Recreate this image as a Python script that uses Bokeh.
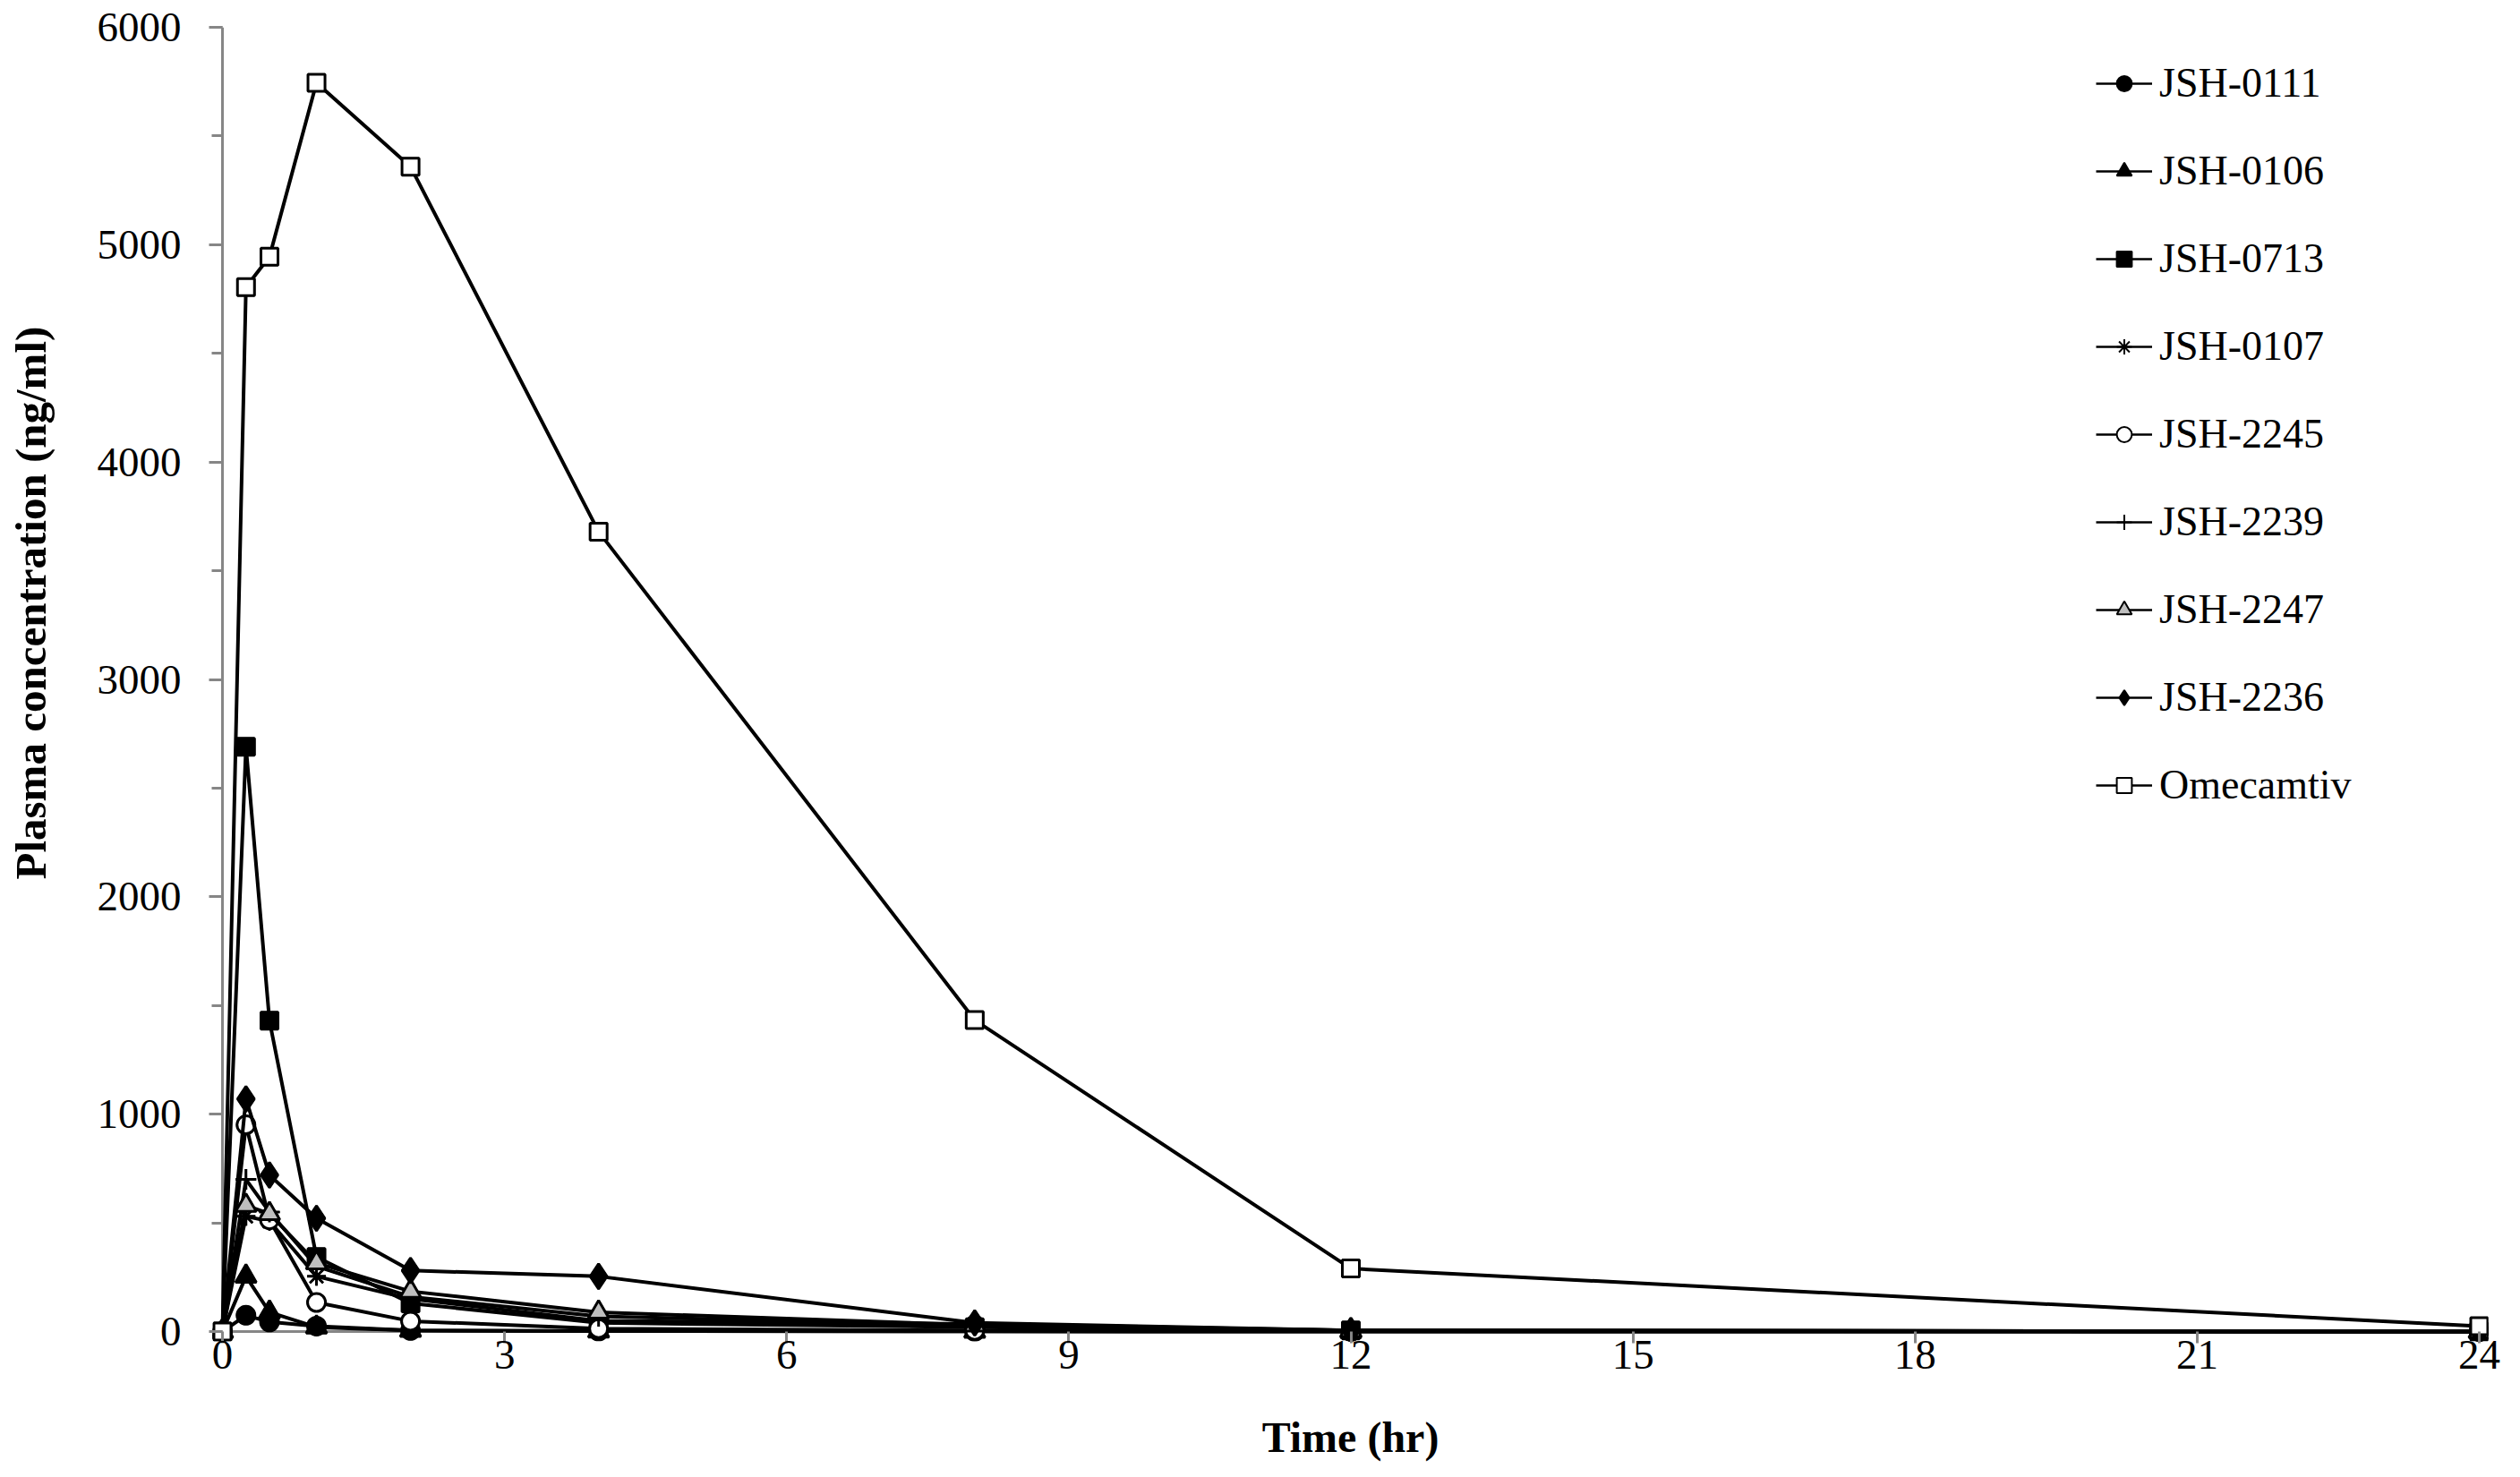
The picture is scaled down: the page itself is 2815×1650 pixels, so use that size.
from bokeh.plotting import figure
from bokeh.models import (Range1d, SingleIntervalTicker, FixedTicker, ColumnDataSource,
                          Legend, LegendItem, Span, Title, LinearAxis)
from bokeh.embed import file_html
from bokeh.resources import INLINE

# ---- data ----
time_hr = [0, 0.25, 0.5, 1, 2, 4, 8, 12, 24]

jsh_0111 = [0, 75, 44, 25, 5, 2, 1, 0, 0]
jsh_0106 = [0, 254, 89, 20, 5, 2, 1, 0, 0]
jsh_0713 = [0, 2690, 1430, 343, 130, 40, 20, 5, 0]
jsh_0107 = [0, 530, 508, 254, 150, 50, 35, 5, 0]
jsh_2245 = [0, 951, 514, 134, 48, 14, 5, 2, 0]
jsh_2239 = [0, 700, 550, 300, 160, 70, 30, 3, 0]
jsh_2247 = [0, 580, 542, 316, 185, 89, 30, 5, 0]
jsh_2236 = [0, 1070, 720, 521, 281, 254, 40, 5, 0]
omecamtiv = [0, 4805, 4945, 5745, 5359, 3680, 1433, 290, 25]

series_names = ["JSH-0111", "JSH-0106", "JSH-0713", "JSH-0107", "JSH-2245",
                "JSH-2239", "JSH-2247", "JSH-2236", "Omecamtiv"]
series_values = [jsh_0111, jsh_0106, jsh_0713, jsh_0107, jsh_2245,
                 jsh_2239, jsh_2247, jsh_2236, omecamtiv]

x_label = "Time (hr)"
y_label = "Plasma concentration (ng/ml)"
X_MAX = 24
Y_MAX = 6000

# ---- styles ----
styles = [
    dict(marker="circle", size=20, fill="black"),
    dict(marker="triangle", size=23, fill="black"),
    dict(marker="square", size=19, fill="black"),
    dict(marker="asterisk", size=21, fill="black"),
    dict(marker="circle", size=20, fill="white"),
    dict(marker="cross", size=23, fill="black"),
    dict(marker="triangle", size=23, fill="#bfbfbf"),
    dict(marker="diamond", size=28, fill="black"),
    dict(marker="square", size=19, fill="white"),
]

FONT = "Liberation Serif"
AXIS_GREY = "#868686"

# layout in pixels
PX_PER_HR = 105.04
Y_SPAN_PX = 1463
PX_PER_UNIT = Y_SPAN_PX / Y_MAX
PAD_L, PAD_R, PAD_B = 11, 10, 11
frame_w = int(round(X_MAX * PX_PER_HR)) + PAD_L + PAD_R
frame_h = Y_SPAN_PX + PAD_B
BORDER_L, BORDER_T = 237, 30
W, H = 2799, 1634

p = figure(width=W, height=H, output_backend="svg", toolbar_location=None,
           x_range=Range1d(-PAD_L / PX_PER_HR, X_MAX + PAD_R / PX_PER_HR),
           y_range=Range1d(-PAD_B / PX_PER_UNIT, Y_MAX),
           min_border_left=BORDER_L, min_border_right=W - BORDER_L - frame_w,
           min_border_top=BORDER_T, min_border_bottom=H - BORDER_T - frame_h)
p.outline_line_color = None
p.grid.grid_line_color = None
p.background_fill_color = "white"

# axis lines drawn at the zero positions (under the data)
p.add_layout(Span(location=0, dimension="width", line_color=AXIS_GREY,
                  line_width=3, level="underlay"))
p.add_layout(Span(location=0, dimension="height", line_color=AXIS_GREY,
                  line_width=3, level="underlay"))

xa = p.xaxis[0]
xa.ticker = SingleIntervalTicker(interval=3, num_minor_ticks=0)
ya = p.yaxis[0]
ya.ticker = SingleIntervalTicker(interval=1000, num_minor_ticks=2)

for ax in (xa, ya):
    ax.axis_line_color = None
    ax.major_tick_line_color = AXIS_GREY
    ax.major_tick_line_width = 3
    ax.minor_tick_line_color = AXIS_GREY
    ax.minor_tick_line_width = 3
    ax.major_label_text_font = FONT
    ax.major_label_text_font_size = "47px"
    ax.major_label_text_color = "black"
    ax.axis_label_text_font = FONT
    ax.axis_label_text_font_style = "bold"
    ax.axis_label_text_font_size = "48px"
    ax.axis_label_text_color = "black"

xa.major_tick_in = PAD_B
xa.major_tick_out = 2
xa.minor_tick_in = 0
xa.minor_tick_out = 0
xa.major_label_standoff = -3
xa.axis_label = x_label
xa.axis_label_standoff = 47

ya.major_tick_in = PAD_L
ya.major_tick_out = 4
ya.minor_tick_in = PAD_L
ya.minor_tick_out = 1
ya.major_label_standoff = 31

# invisible spacer axis (one hidden tick, empty label): pushes the y title outward
spacer = LinearAxis(ticker=FixedTicker(ticks=[3000], minor_ticks=[]),
                    axis_line_color=None,
                    major_tick_line_color=None, minor_tick_line_color=None,
                    major_tick_in=0, major_tick_out=44, minor_tick_in=0,
                    minor_tick_out=0, major_label_standoff=0,
                    major_label_overrides={3000: ""},
                    major_label_text_font_size="1px")
p.add_layout(spacer, "left")

# y-axis title, sitting above the centre like the reference
p.add_layout(Title(text=y_label, align="left", offset=516, standoff=0,
                   text_font=FONT, text_font_style="bold",
                   text_font_size="49px", text_color="black"), "left")

items = []
for name, vals, st in zip(series_names, series_values, styles):
    src = ColumnDataSource(data=dict(t=time_hr, c=vals))
    # legend proxies (thinner line), drawn first and hidden under the series
    lr = p.line("t", "c", source=src, line_color="black", line_width=2.5)
    sr = p.scatter("t", "c", source=src, marker=st["marker"], size=st["size"],
                   fill_color=st["fill"], line_color="black", line_width=2)
    items.append(LegendItem(label=name, renderers=[lr, sr]))

for name, vals, st in zip(series_names, series_values, styles):
    src = ColumnDataSource(data=dict(t=time_hr, c=vals))
    p.line("t", "c", source=src, line_color="black", line_width=4)
    p.scatter("t", "c", source=src, marker=st["marker"], size=st["size"],
              fill_color=st["fill"], line_color="black", line_width=3)

legend = Legend(items=items, location=(2104, 595))
legend.label_text_font = FONT
legend.label_text_font_size = "46px"
legend.label_text_color = "black"
legend.glyph_width = 63
legend.glyph_height = 42
legend.label_height = 51
legend.label_standoff = 8
legend.spacing = 45
legend.padding = 0
legend.margin = 0
legend.border_line_color = None
legend.background_fill_alpha = 0
p.add_layout(legend)

open("out.html", "w").write(file_html(p, INLINE))
